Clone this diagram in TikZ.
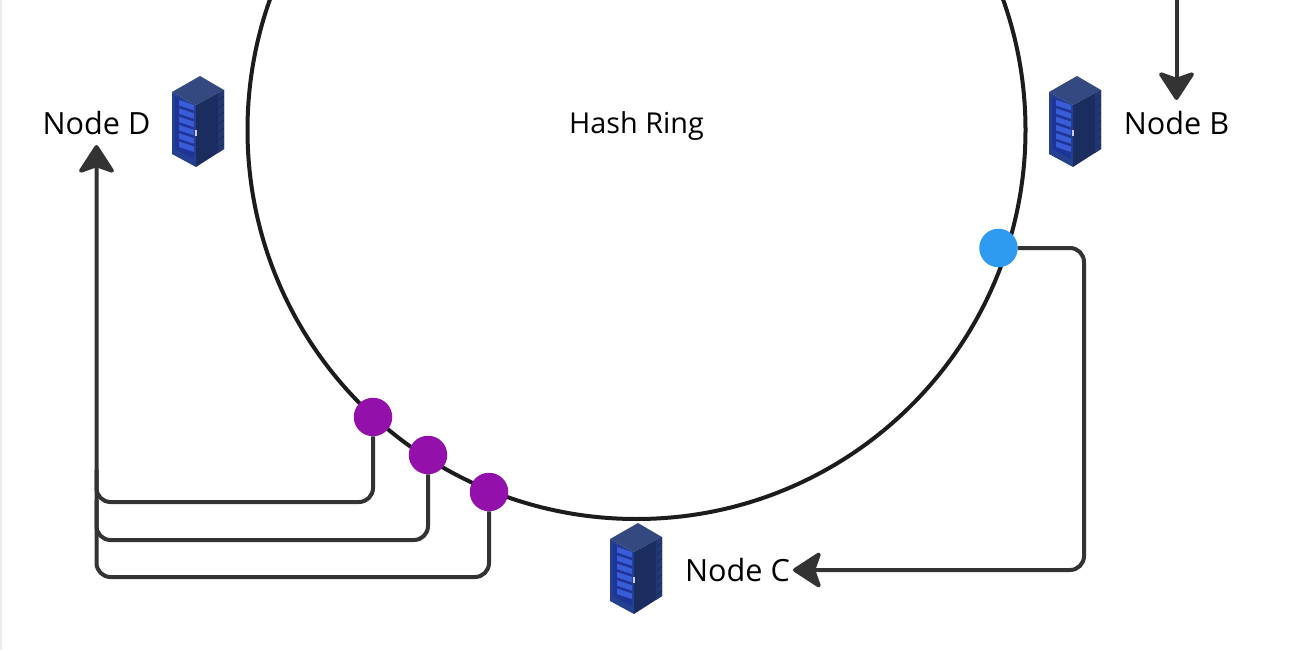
\documentclass[tikz,border=0pt]{standalone}
\usepackage{fontspec}
\setmainfont{Open Sans}
\usetikzlibrary{arrows.meta}
\definecolor{ringc}{HTML}{1C1C1C}
\definecolor{connc}{HTML}{333333}
\definecolor{dotp}{HTML}{9310AB}
\definecolor{dotb}{HTML}{2E9BF0}
\definecolor{srvtop}{HTML}{34497F}
\definecolor{srvfront}{HTML}{24408F}
\definecolor{srvside}{HTML}{1B2C5E}
\definecolor{srvstrip}{HTML}{233872}
\definecolor{srvpanel}{HTML}{1C3596}
\definecolor{srvbar}{HTML}{3A5CD6}
\tikzset{
  x=1pt,y=-1pt,
  txt/.style={font=\fontsize{30.6}{33}\selectfont,text=black,inner sep=0pt,outer sep=0pt},
  ring/.style={draw=ringc,line width=4pt},
  conn/.style={draw=connc,line width=4pt,rounded corners=14pt,
     -{Stealth[round,length=31pt,width=40pt,inset=7pt]}},
  plainconn/.style={draw=connc,line width=4pt,rounded corners=14pt},
  dot/.style={circle,inner sep=0pt,outer sep=0pt,minimum size=38.5pt},
  server/.pic={
    \fill[srvtop] (0,16)--(28,0)--(52,14)--(24,29)--cycle;
    \fill[srvfront] (0,16)--(24,29)--(24,91)--(0,78)--cycle;
    \fill[srvside] (24,29)--(52,14)--(52,73)--(24,91)--cycle;
    \fill[srvstrip] (46,18)--(52,14)--(52,73)--(46,77)--cycle;
    \fill[srvpanel] (3,21)--(22,31)--(22,83)--(3,73)--cycle;
    \foreach \i in {0,...,5}{
      \fill[srvbar] (7,24+8.3*\i)--(22,29+8.3*\i)--(22,34.5+8.3*\i)--(7,29.5+8.3*\i)--cycle;
    }
    \foreach \i in {0,...,6}{
      \draw[srvside,line width=0.6pt] (46,24+8*\i)--(52,20+8*\i);
    }
    \fill[white!80!blue] (22.5,54) rectangle (24.5,60);
  },
}
\begin{document}
\begin{tikzpicture}
\useasboundingbox (0,0) rectangle (1300,650);
\fill[white] (0,0) rectangle (1300,650);
\fill[black!8] (0,0) rectangle (1.5,650);
\begin{scope}
\clip (0,0) rectangle (1300,650);
\node[circle,ring,inner sep=0pt,minimum size=778pt] (ringn) at (636.5,130) {};
\end{scope}
\node[txt,font=\fontsize{28.8}{32}\selectfont,anchor=base] (hash) at (636.5,134) {Hash Ring};
\node[txt,minimum height=44pt] (labelD) at (96.5,123) {Node D};
\node[txt,minimum height=46pt] (labelB) at (1176.5,123) {Node B};
\node[txt,minimum width=111pt] (labelC) at (737.5,570) {Node C};
\pic at (172,76) {server};
\pic at (1049,76) {server};
\pic at (610,523) {server};
\node[dot,fill=dotp] (p1) at (373,417) {};
\node[dot,fill=dotp] (p2) at (428,455) {};
\node[dot,fill=dotp] (p3) at (489,492) {};
\node[dot,fill=dotb] (b1) at (998.5,248) {};
\coordinate (c1) at (96.5,502);
\coordinate (c2) at (96.5,540);
\coordinate (c3) at (96.5,577);
\coordinate (c4) at (1084,570);
\coordinate (srcB) at (1176.5,-5);
\draw[plainconn] (p1.south) |- (c1) -- (96.5,470);
\draw[plainconn] (p2.south) |- (c2) -- (96.5,500);
\draw[conn] (p3.south) |- (c3) -- (labelD.south);
\draw[conn] (b1.east) -| (c4) -- (labelC.east);
\draw[conn] (srcB) -- (labelB.north);
\end{tikzpicture}
\end{document}
